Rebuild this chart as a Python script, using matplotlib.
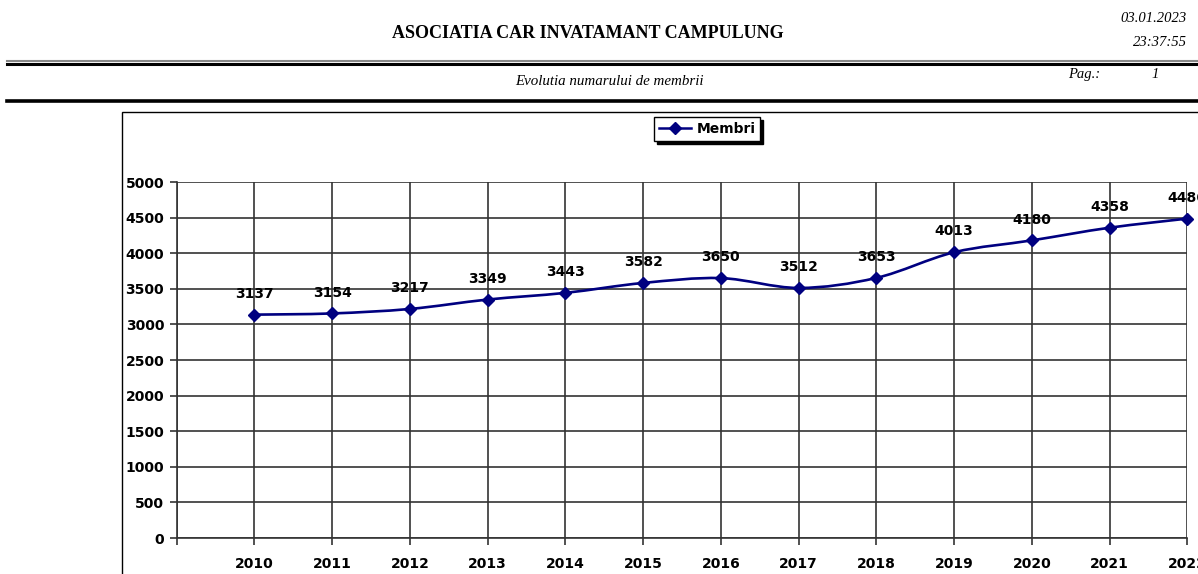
import numpy as np
import matplotlib.pyplot as plt
from matplotlib.path import Path
from matplotlib.patches import PathPatch, Rectangle
from matplotlib.lines import Line2D

# Date din grafic
ani = ['2010', '2011', '2012', '2013', '2014', '2015', '2016',
       '2017', '2018', '2019', '2020', '2021', '2022']
membri = [3137, 3154, 3217, 3349, 3443, 3582, 3650,
          3512, 3653, 4013, 4180, 4358, 4486]
y_ticks = [0, 500, 1000, 1500, 2000, 2500, 3000, 3500, 4000, 4500, 5000]

titlu = "ASOCIATIA CAR INVATAMANT CAMPULUNG"
subtitlu = "Evolutia numarului de membrii"
data_raport = "03.01.2023"
ora_raport = "23:37:55"

W, H = 1198, 574
fig = plt.figure(figsize=(W / 100, H / 100), dpi=100)
fig.patch.set_facecolor('white')


def fx(px):
    return px / W


def fy(py):
    return 1 - py / H


serif = 'Liberation Serif'
sans = 'DejaVu Sans'
navy = '#000080'

# Antet
fig.text(fx(588), fy(33), titlu, ha='center', va='center',
         fontfamily=serif, fontweight='bold', fontsize=13)
fig.text(fx(1187), fy(18), data_raport, ha='right', va='center',
         fontfamily=serif, fontstyle='italic', fontsize=10.5)
fig.text(fx(1187), fy(43), ora_raport, ha='right', va='center',
         fontfamily=serif, fontstyle='italic', fontsize=10.5)
fig.text(fx(609), fy(82), subtitlu, ha='center', va='center',
         fontfamily=serif, fontstyle='italic', fontsize=10.8)
fig.text(fx(1068), fy(74), "Pag.:", ha='left', va='center',
         fontfamily=serif, fontstyle='italic', fontsize=10.5)
fig.text(fx(1155), fy(74), "1", ha='center', va='center',
         fontfamily=serif, fontstyle='italic', fontsize=10.5)

# Linii orizontale din antet
fig.add_artist(Line2D([fx(7), 1], [fy(61), fy(61)], color='#888888', lw=1.5))
fig.add_artist(Line2D([fx(7), 1], [fy(63.5), fy(63.5)], color='black', lw=2.2))
fig.add_artist(Line2D([fx(7), 1], [fy(100.5), fy(100.5)], color='black', lw=2.6))

# Chenarul graficului
fig.add_artist(Rectangle((fx(121.5), fy(600)), fx(1200), fy(112) - fy(600),
                         transform=fig.transFigure, fill=False,
                         edgecolor='black', lw=1.0, clip_on=False))

# Zona de desen
ax = fig.add_axes([fx(176.7), fy(538), fx(1187.3) - fx(176.7), fy(182) - fy(538)])
ax.set_xlim(-1, len(ani) - 1)
ax.set_ylim(0, 5000)
x = np.arange(len(ani))

ax.set_yticks(y_ticks)
ax.set_yticklabels([str(v) for v in y_ticks])
ax.set_xticks([-1] + list(x))
ax.set_xticklabels([''] + ani)
ax.grid(True, color='#333333', lw=1.2)
ax.set_axisbelow(True)
for s in ['top', 'right']:
    ax.spines[s].set_visible(False)
for s in ['left', 'bottom']:
    ax.spines[s].set_color('#333333')
    ax.spines[s].set_linewidth(1.2)
ax.tick_params(axis='both', direction='out', length=5, width=1.2, color='#333333')
ax.tick_params(axis='x', pad=9)
ax.tick_params(axis='y', pad=4)
for lbl in ax.get_xticklabels() + ax.get_yticklabels():
    lbl.set_fontfamily(sans)
    lbl.set_fontweight('bold')
    lbl.set_fontsize(10)

# Linie netezita (Catmull-Rom -> Bezier)
pts = np.column_stack([x, membri]).astype(float)
verts = [tuple(pts[0])]
codes = [Path.MOVETO]
n = len(pts)
for i in range(n - 1):
    p0 = pts[i - 1] if i > 0 else pts[i]
    p1 = pts[i]
    p2 = pts[i + 1]
    p3 = pts[i + 2] if i + 2 < n else pts[i + 1]
    c1 = p1 + (p2 - p0) / 6
    c2 = p2 - (p3 - p1) / 6
    verts += [tuple(c1), tuple(c2), tuple(p2)]
    codes += [Path.CURVE4] * 3
ax.add_patch(PathPatch(Path(verts, codes), fill=False, edgecolor=navy, lw=1.9,
                       clip_on=False, zorder=3))
ax.plot(x, membri, linestyle='none', marker='D', markersize=6.5, color=navy,
        clip_on=False, zorder=4)

for xi, v in zip(x, membri):
    ax.annotate(str(v), (xi, v), xytext=(0, 15), textcoords='offset points',
                ha='center', va='center', fontfamily=sans, fontweight='bold',
                fontsize=10, annotation_clip=False)

# Legenda
handle = Line2D([], [], color=navy, lw=1.8, marker='D', markersize=6)
leg = fig.legend([handle], ['Membri'], loc='center',
                 bbox_to_anchor=(fx(707), fy(129)), frameon=True,
                 fancybox=False, shadow={'color': 'black', 'alpha': 1.0},
                 edgecolor='black',
                 handlelength=2.3, handletextpad=0.4, borderpad=0.35,
                 prop={'family': sans, 'weight': 'bold', 'size': 10})
leg.get_frame().set_linewidth(1.0)

fig.savefig('out.png', dpi=100)
